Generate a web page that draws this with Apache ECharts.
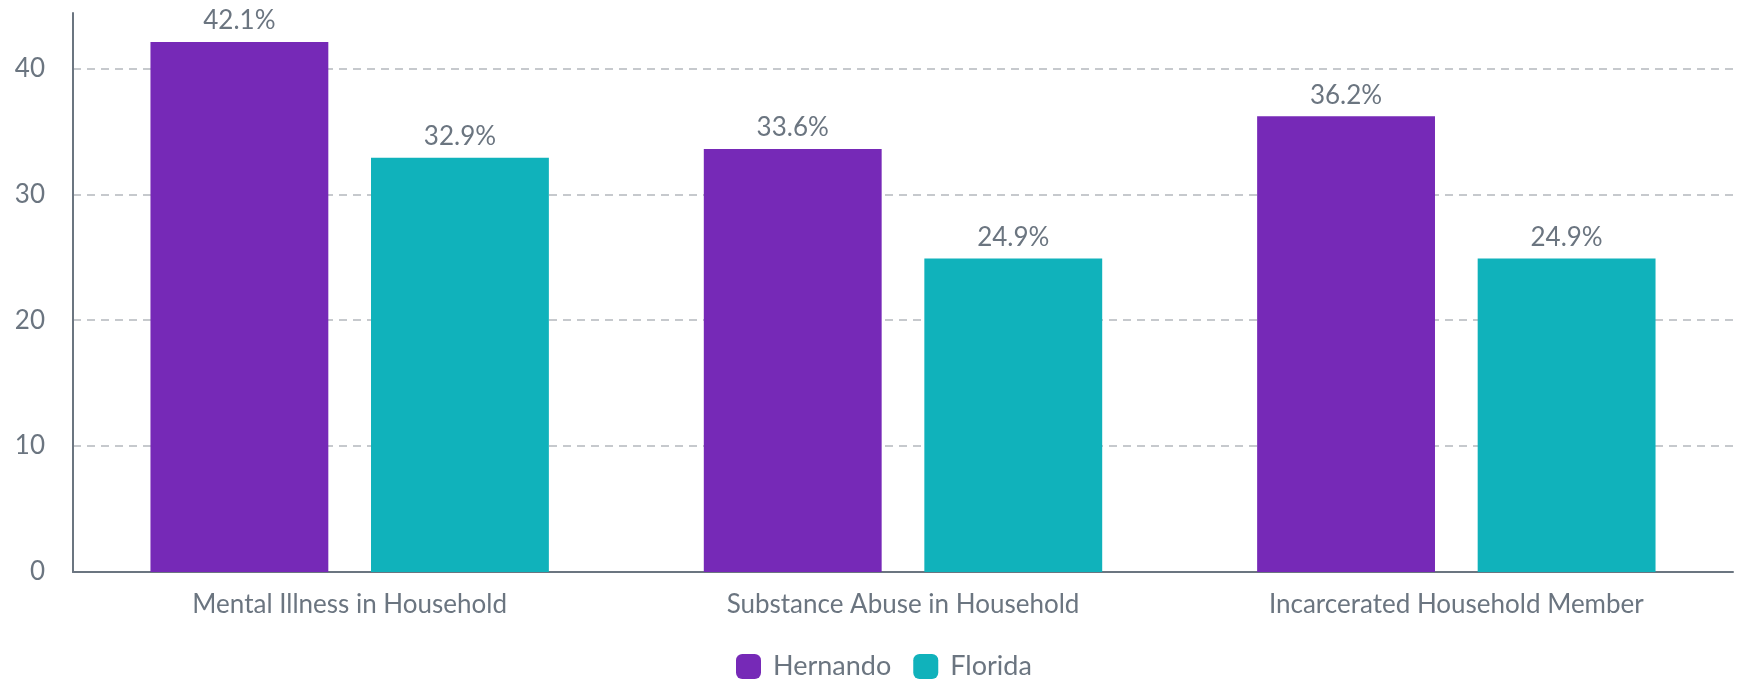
<!DOCTYPE html>
<html>
<head>
<meta charset="utf-8">
<script src="https://cdn.jsdelivr.net/npm/echarts@6/dist/echarts.min.js"></script>
<style>
html,body{margin:0;padding:0;background:#fff;}
#chart{width:1738px;height:679px;}
</style>
</head>
<body>
<div id="chart"></div>
<script>
const categories = ["Mental Illness in Household", "Substance Abuse in Household", "Incarcerated Household Member"];
const seriesNames = ["Hernando", "Florida"];
const hernando = [42.1, 33.6, 36.2];
const florida = [32.9, 24.9, 24.9];
const yTicks = [0, 10, 20, 30, 40];

const textColor = '#6b7580';
const font = 'Lato, "Noto Sans", sans-serif';
const chart = echarts.init(document.getElementById('chart'));
const labelCfg = {
  show: true, position: 'top', distance: 8,
  color: textColor, fontFamily: font, fontSize: 26,
  formatter: p => p.value.toFixed(1) + '%'
};
chart.setOption({
  animation: false,
  textStyle: {fontFamily: font},
  grid: {left: 73, right: 5, top: 13, bottom: 107, containLabel: false},
  legend: {
    bottom: -6, left: 731, itemWidth: 25, itemHeight: 25, itemGap: 22,
    icon: 'roundRect',
    textStyle: {color: textColor, fontSize: 27, fontFamily: font, padding: [0, 0, 0, 7]},
    data: seriesNames
  },
  xAxis: {
    type: 'category', data: categories,
    axisLine: {show: true, lineStyle: {color: textColor, width: 2}},
    axisTick: {show: false},
    axisLabel: {color: textColor, fontSize: 26, fontFamily: font, margin: 20}
  },
  yAxis: {
    type: 'value', min: yTicks[0], max: 44.4, interval: 10,
    axisLine: {show: true, lineStyle: {color: textColor, width: 2}},
    axisTick: {show: false},
    axisLabel: {color: textColor, fontSize: 26, fontFamily: font, margin: 28,
      showMaxLabel: false,
      formatter: v => yTicks.includes(v) ? String(v) : ''},
    splitLine: {show: true, showMaxLine: false, showMinLine: false,
      lineStyle: {color: '#b4b8bd', type: [8, 6], width: 1.5}}
  },
  series: [
    {name: seriesNames[0], type: 'bar', data: hernando, itemStyle: {color: '#7629b7'},
     barGap: '24%', barCategoryGap: '28%', label: labelCfg},
    {name: seriesNames[1], type: 'bar', data: florida, itemStyle: {color: '#10b2bb'},
     label: labelCfg}
  ]
});
</script>
</body>
</html>
